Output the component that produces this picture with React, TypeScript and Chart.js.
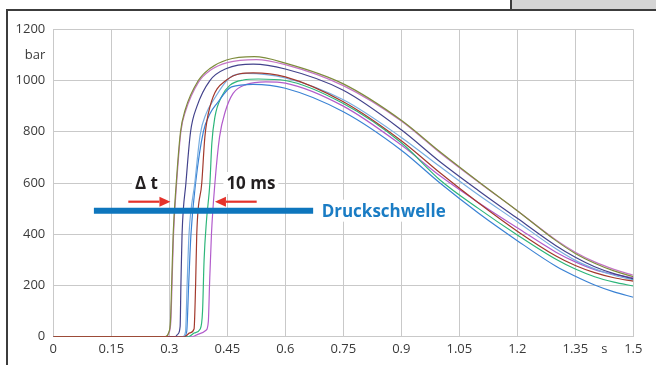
import React, { useEffect, useRef } from "react";
import { Chart, registerables } from "chart.js";

Chart.register(...registerables);

// ---- Data (time in s, pressure in bar) ----
const olive: [number, number][] = [
  [0, 0], [0.29, 0], [0.298, 15], [0.303, 60], [0.306, 200], [0.31, 400], [0.318, 600],
  [0.329, 800], [0.341, 885], [0.375, 1000], [0.405, 1047], [0.448, 1080], [0.52, 1093],
  [0.6, 1068], [0.75, 987], [0.9, 845], [1.0, 722], [1.1, 605], [1.2, 492], [1.3, 375],
  [1.35, 325], [1.4, 287], [1.45, 257], [1.5, 234],
];
const pink: [number, number][] = [
  [0, 0], [0.29, 0], [0.299, 15], [0.304, 60], [0.307, 200], [0.311, 400], [0.319, 600],
  [0.33, 800], [0.342, 880], [0.376, 995], [0.406, 1040], [0.45, 1070], [0.525, 1082],
  [0.6, 1062], [0.75, 980], [0.9, 842], [1.0, 718], [1.1, 603], [1.2, 492], [1.3, 378],
  [1.35, 330], [1.4, 292], [1.45, 263], [1.5, 240],
];
const navy: [number, number][] = [
  [0, 0], [0.315, 0], [0.322, 10], [0.328, 40], [0.33, 200], [0.333, 400], [0.343, 600],
  [0.355, 800], [0.371, 897], [0.405, 1000], [0.448, 1047], [0.517, 1064], [0.6, 1045],
  [0.75, 962], [0.9, 808], [1.0, 683], [1.1, 570], [1.2, 462], [1.3, 355], [1.35, 310],
  [1.4, 273], [1.45, 246], [1.5, 226],
];
const lightBlue: [number, number][] = [
  [0, 0], [0.335, 0], [0.342, 20], [0.346, 200], [0.351, 400], [0.366, 600], [0.38, 790],
  [0.395, 870], [0.414, 923], [0.457, 1012], [0.5, 1028], [0.6, 1010], [0.75, 925],
  [0.9, 778], [1.0, 664], [1.1, 553], [1.2, 449], [1.3, 343], [1.35, 298], [1.4, 265],
  [1.45, 240], [1.5, 222],
];
const blue: [number, number][] = [
  [0, 0], [0.338, 0], [0.345, 20], [0.35, 200], [0.356, 400], [0.368, 600], [0.388, 800],
  [0.405, 870], [0.423, 910], [0.461, 975], [0.517, 985], [0.6, 970], [0.75, 878],
  [0.9, 728], [1.0, 600], [1.1, 482], [1.2, 375], [1.3, 275], [1.35, 236], [1.4, 202],
  [1.45, 175], [1.5, 154],
];
const darkRed: [number, number][] = [
  [0, 0], [0.34, 0], [0.353, 15], [0.364, 30], [0.368, 200], [0.371, 400], [0.384, 600],
  [0.392, 780], [0.405, 897], [0.448, 1002], [0.517, 1030], [0.6, 1014], [0.75, 917],
  [0.9, 765], [1.0, 640], [1.1, 522], [1.2, 412], [1.3, 315], [1.35, 278], [1.4, 250],
  [1.45, 230], [1.5, 217],
];
const green: [number, number][] = [
  [0, 0], [0.35, 0], [0.365, 15], [0.38, 30], [0.386, 100], [0.39, 300], [0.396, 450],
  [0.405, 600], [0.41, 755], [0.418, 858], [0.435, 937], [0.457, 982], [0.491, 1002],
  [0.53, 1006], [0.6, 1000], [0.75, 910], [0.9, 757], [1.0, 612], [1.1, 500], [1.2, 397],
  [1.3, 302], [1.35, 264], [1.4, 234], [1.45, 213], [1.5, 198],
];
const purple: [number, number][] = [
  [0, 0], [0.36, 0], [0.375, 10], [0.395, 25], [0.401, 60], [0.404, 200], [0.409, 400],
  [0.418, 600], [0.43, 780], [0.445, 880], [0.465, 950], [0.5, 985], [0.55, 995],
  [0.6, 990], [0.75, 900], [0.9, 748], [1.0, 628], [1.1, 523], [1.2, 425], [1.3, 330],
  [1.35, 292], [1.4, 262], [1.45, 243], [1.5, 230],
];

const thresholdValue = 492;
const thresholdRange = [0.105, 0.672];

const xTickValues = [0, 0.15, 0.3, 0.45, 0.6, 0.75, 0.9, 1.05, 1.2, 1.35, 1.425, 1.5];
const xTickLabels = ["0", "0.15", "0.3", "0.45", "0.6", "0.75", "0.9", "1.05", "1.2", "1.35", "s", "1.5"];
const yTickValues = [0, 200, 400, 600, 800, 1000, 1100, 1200];
const yTickLabels = ["0", "200", "400", "600", "800", "1000", "bar", "1200"];

const deltaLabel = { text: "Δ t", x: 0.241, y: 600 };
const msLabel = { text: "10 ms", x: 0.511, y: 600 };
const thresholdLabel = { text: "Druckschwelle", x: 0.694, y: thresholdValue };
const arrowLeft = { from: 0.194, to: 0.303, y: 527 };
const arrowRight = { from: 0.526, to: 0.418, y: 527 };

const GRID = "#c9c9c9";
const TICK_FONT = { family: "'Open Sans', sans-serif", size: 13 };

const toXY = (arr: [number, number][]) => arr.map(([x, y]) => ({ x, y }));

const annotationPlugin = {
  id: "annot",
  afterDatasetsDraw(chart: any) {
    const ctx = chart.ctx as CanvasRenderingContext2D;
    const xs = chart.scales.x;
    const ys = chart.scales.y;
    ctx.save();
    ctx.font = "bold 17px 'Open Sans', sans-serif";
    ctx.textBaseline = "middle";

    const drawText = (lab: any, align: CanvasTextAlign, color: string) => {
      const px = xs.getPixelForValue(lab.x);
      const py = ys.getPixelForValue(lab.y);
      const w = ctx.measureText(lab.text).width;
      const left = align === "center" ? px - w / 2 : px;
      ctx.fillStyle = "#ffffff";
      ctx.fillRect(left - 3, py - 11, w + 6, 22);
      ctx.fillStyle = color;
      ctx.textAlign = align;
      ctx.fillText(lab.text, px, py + 1);
    };
    drawText(deltaLabel, "center", "#231f20");
    drawText(msLabel, "center", "#231f20");
    drawText(thresholdLabel, "left", "#1a7cc4");

    const drawArrow = (a: any) => {
      const x1 = xs.getPixelForValue(a.from);
      const x2 = xs.getPixelForValue(a.to);
      const y = ys.getPixelForValue(a.y);
      const dir = Math.sign(x2 - x1);
      const head = 11;
      ctx.strokeStyle = "#e5322a";
      ctx.fillStyle = "#e5322a";
      ctx.lineWidth = 2.2;
      ctx.beginPath();
      ctx.moveTo(x1, y);
      ctx.lineTo(x2 - dir * head, y);
      ctx.stroke();
      ctx.beginPath();
      ctx.moveTo(x2, y);
      ctx.lineTo(x2 - dir * head, y - 5);
      ctx.lineTo(x2 - dir * head, y + 5);
      ctx.closePath();
      ctx.fill();
    };
    drawArrow(arrowLeft);
    drawArrow(arrowRight);
    ctx.restore();
  },
};

export default function App() {
  const ref = useRef<HTMLCanvasElement | null>(null);
  useEffect(() => {
    if (!ref.current) return;
    const line = (data: [number, number][], color: string) => ({
      data: toXY(data),
      borderColor: color,
      backgroundColor: color,
      borderWidth: 1.2,
      pointRadius: 0,
      cubicInterpolationMode: "monotone" as const,
      fill: false,
    });
    const chart = new Chart(ref.current, {
      type: "line",
      data: {
        datasets: [
          {
            data: [
              { x: thresholdRange[0], y: thresholdValue },
              { x: thresholdRange[1], y: thresholdValue },
            ],
            borderColor: "#0e76bd",
            borderWidth: 6,
            pointRadius: 0,
            fill: false,
          },
          line(darkRed, "#a3392c"),
          line(olive, "#7e8c3c"),
          line(pink, "#c474c4"),
          line(navy, "#43438c"),
          line(lightBlue, "#78ade0"),
          line(blue, "#3a82d4"),
          line(green, "#2db67a"),
          line(purple, "#b25ccc"),
        ] as any,
      },
      options: {
        animation: false,
        responsive: false,
        maintainAspectRatio: false,
        layout: { padding: { left: 0, top: 29.3, right: 22.7, bottom: 0 } },
        plugins: { legend: { display: false }, tooltip: { enabled: false } },
        scales: {
          x: {
            type: "linear",
            min: 0,
            max: 1.5,
            afterBuildTicks: (s: any) => {
              s.ticks = xTickValues.map((v) => ({ value: v }));
            },
            afterFit: (s: any) => {
              s.height = 28.3;
            },
            ticks: {
              autoSkip: false,
              maxRotation: 0,
              padding: 5,
              color: "#3a3a3a",
              font: TICK_FONT,
              callback: (_v: any, i: number) => xTickLabels[i],
            },
            grid: {
              drawTicks: false,
              lineWidth: 1,
              color: (c: any) => (c.tick && c.tick.value === 1.425 ? "rgba(0,0,0,0)" : GRID),
            },
            border: { color: GRID, width: 1 },
          },
          y: {
            type: "linear",
            min: 0,
            max: 1200,
            afterBuildTicks: (s: any) => {
              s.ticks = yTickValues.map((v) => ({ value: v }));
            },
            afterFit: (s: any) => {
              s.width = 53.3;
            },
            ticks: {
              autoSkip: false,
              padding: 8,
              color: "#3a3a3a",
              font: TICK_FONT,
              callback: (_v: any, i: number) => yTickLabels[i],
            },
            grid: {
              drawTicks: false,
              lineWidth: 1,
              color: (c: any) => (c.tick && c.tick.value === 1100 ? "rgba(0,0,0,0)" : GRID),
            },
            border: { color: GRID, width: 1 },
          },
        },
      } as any,
      plugins: [annotationPlugin],
    });
    return () => chart.destroy();
  }, []);

  return (
    <div
      style={{
        position: "fixed",
        left: 0,
        top: 0,
        width: 656,
        height: 365,
        background: "#ffffff",
        overflow: "hidden",
      }}
    >
      <canvas ref={ref} width={656} height={365} style={{ position: "absolute", left: 0, top: 0, width: 656, height: 365 }} />
      <div style={{ position: "absolute", left: 511, top: 0, width: 145, height: 10, background: "#d4d4d4" }} />
      <div style={{ position: "absolute", left: 510, top: 0, width: 2, height: 10, background: "#3c3c3c" }} />
      <div style={{ position: "absolute", left: 6, top: 9, width: 650, height: 2, background: "#3c3c3c" }} />
      <div style={{ position: "absolute", left: 6, top: 9, width: 2, height: 356, background: "#3c3c3c" }} />
    </div>
  );
}
